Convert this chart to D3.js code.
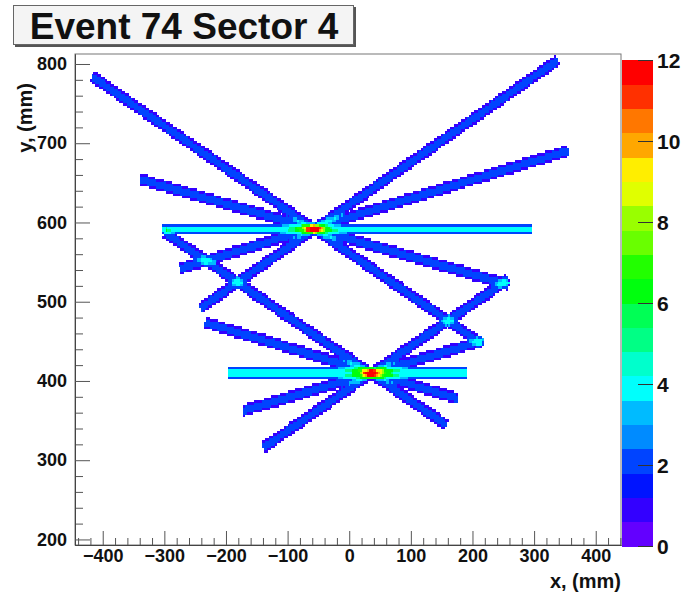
<!DOCTYPE html>
<head>
  <meta charset="utf-8">
  <title>Event 74 Sector 4</title>
  <script src="https://d3js.org/d3.v7.min.js"></script>
  <style>
    body { margin: 0; background: #fff; }
    text {
      font-family: 'Liberation Sans', Arial, sans-serif;
      font-weight: bold;
      fill: #111;
    }
    .axis path, .axis line { stroke: #555; }
    .axis text { font-size: 18px; }
    .zlabel { font-size: 21px; }
    .title { font-size: 37px; }
    .atitle { font-size: 20px; }
  </style>
</head>
<body>
  <script>
    // tracks, mm: [x1, y1, x2, y2]
    var tracks = [
      [-418, 785, 215, 447],
      [-340, 655, 258, 522],
      [-242, 492, 338, 805],
      [-275, 542, 355, 691],
      [-305, 592, 297, 592],
      [-300, 588, 157, 345],
      [-234, 474, 176, 378],
      [-140, 316, 257, 528],
      [-172, 363, 217, 451],
      [-196, 411, 192, 411]
    ];
    var trackWeights = [1, 1, 1, 1, 2, 1, 1, 1, 1, 2];
    var xTicks = [-400, -300, -200, -100, 0, 100, 200, 300, 400];
    var yTicks = [200, 300, 400, 500, 600, 700, 800];
    var zTicks = [0, 2, 4, 6, 8, 10, 12];

    var cfg = {binX: 3, binY: 3, outer: 7, inner: 4.5, zMax: 12, nLevels: 20};

    var W = 684, H = 596;
    var plot = {left: 75, right: 621, top: 54, bottom: 545};

    var svg = d3.select("body").append("svg")
      .attr("width", W).attr("height", H);

    var x = d3.scaleLinear().domain([-445, 441]).range([plot.left, plot.right]);
    var y = d3.scaleLinear().domain([193, 812.6]).range([plot.bottom, plot.top]);
    var z = d3.scaleLinear().domain([0, cfg.zMax]).range([546, 60]);

    // ROOT "pretty" palette, 50 colours, 20 contour levels
    function levelColor(j) {
      var k = Math.floor((j + 0.99) * 50 / cfg.nLevels);
      return d3.hsl(280 - (k + 1) * 5.6, 1, 0.5).toString();
    }
    function valColor(v) {
      var j = Math.min(cfg.nLevels - 1, Math.floor(v / (cfg.zMax / cfg.nLevels)));
      return levelColor(j);
    }

    // fill the 2d histogram from the tracks
    var cells = [];
    var x0 = x.domain()[0], y0 = y.domain()[0];
    for (var bx = x0; bx < x.domain()[1]; bx += cfg.binX) {
      for (var by = y0; by < y.domain()[1]; by += cfg.binY) {
        var cx = bx + cfg.binX / 2, cy = by + cfg.binY / 2, v = 0;
        tracks.forEach(function(t, i) {
          var dx = t[2] - t[0], dy = t[3] - t[1];
          var len2 = dx * dx + dy * dy;
          var s = ((cx - t[0]) * dx + (cy - t[1]) * dy) / len2;
          if (s < 0 || s > 1) return;
          var d = Math.abs((cx - t[0]) * dy - (cy - t[1]) * dx) / Math.sqrt(len2);
          if (d < cfg.outer) v += trackWeights[i];
          if (d < cfg.inner) v += trackWeights[i];
        });
        if (v > 0) cells.push({x: bx, y: by, v: v});
      }
    }

    svg.append("g")
      .attr("shape-rendering", "crispEdges")
      .selectAll("rect")
      .data(cells)
      .enter().append("rect")
        .attr("x", d => x(d.x))
        .attr("y", d => y(d.y + cfg.binY))
        .attr("width", d => x(d.x + cfg.binX) - x(d.x) + 0.4)
        .attr("height", d => y(d.y) - y(d.y + cfg.binY) + 0.4)
        .style("fill", d => valColor(d.v));

    // frame
    svg.append("rect")
      .attr("x", plot.left).attr("y", plot.top)
      .attr("width", plot.right - plot.left).attr("height", plot.bottom - plot.top)
      .style("fill", "none").style("stroke", "#777").style("stroke-width", 1);

    // axes
    var xMinor = d3.range(-440, 441, 20).filter(v => v % 100 != 0);
    var yMinor = d3.range(200, 811, 20).filter(v => v % 100 != 0);

    svg.append("g").attr("class", "axis")
      .attr("transform", "translate(0," + plot.bottom + ")")
      .call(d3.axisBottom(x).tickValues(xMinor).tickSizeInner(-7).tickSizeOuter(0).tickFormat(""));
    svg.append("g").attr("class", "axis")
      .attr("transform", "translate(0," + plot.bottom + ")")
      .call(d3.axisBottom(x).tickValues(xTicks).tickSizeInner(-14).tickSizeOuter(0).tickPadding(4));
    svg.append("g").attr("class", "axis")
      .attr("transform", "translate(" + plot.left + ",0)")
      .call(d3.axisLeft(y).tickValues(yMinor).tickSizeInner(-8).tickSizeOuter(0).tickFormat(""));
    svg.append("g").attr("class", "axis")
      .attr("transform", "translate(" + plot.left + ",0)")
      .call(d3.axisLeft(y).tickValues(yTicks).tickSizeInner(-15).tickSizeOuter(0).tickPadding(8));
    svg.selectAll(".axis .domain").style("stroke", "#444");

    svg.append("text").attr("class", "atitle")
      .attr("text-anchor", "end")
      .attr("x", plot.right).attr("y", 588)
      .text("x, (mm)");
    svg.append("text").attr("class", "atitle")
      .attr("text-anchor", "end")
      .attr("transform", "translate(32,83) rotate(-90)")
      .text("y, (mm)");

    // colour bar
    var zBands = d3.range(cfg.nLevels);
    var step = cfg.zMax / cfg.nLevels;
    var bar = svg.append("g").attr("shape-rendering", "crispEdges");
    bar.selectAll("rect")
      .data(zBands)
      .enter().append("rect")
        .attr("x", 622).attr("width", 31)
        .attr("y", d => z((d + 1) * step))
        .attr("height", d => z(d * step) - z((d + 1) * step) + 0.5)
        .style("fill", d => levelColor(d));
    bar.selectAll("line")
      .data(zTicks)
      .enter().append("line")
        .attr("x1", 638).attr("x2", 653)
        .attr("y1", d => z(d)).attr("y2", d => z(d))
        .style("stroke", "#333");
    svg.selectAll(".zlabel")
      .data(zTicks)
      .enter().append("text")
        .attr("class", "zlabel")
        .attr("x", 657)
        .attr("y", d => z(d))
        .attr("dy", "0.36em")
        .text(d => d);

    // title box
    svg.append("rect")
      .attr("x", 15).attr("y", 7).attr("width", 341).attr("height", 40)
      .style("fill", "#555");
    svg.append("rect")
      .attr("x", 13.5).attr("y", 5.5).attr("width", 340).attr("height", 39)
      .style("fill", "#f4f4f4").style("stroke", "#666");
    svg.append("text").attr("class", "title")
      .attr("x", 184).attr("y", 39)
      .attr("text-anchor", "middle")
      .text("Event 74 Sector 4");
  </script>
</body>
